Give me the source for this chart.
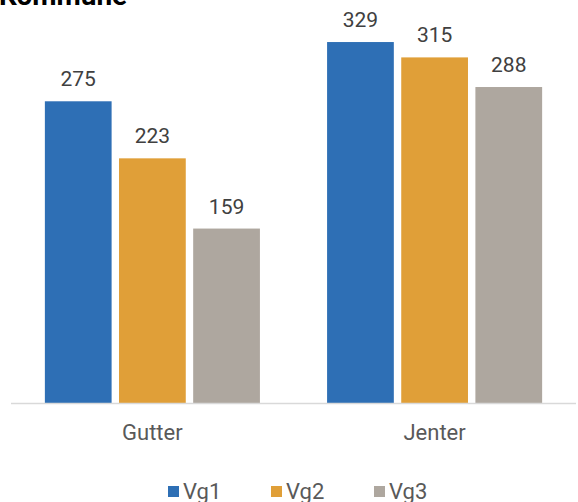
<!DOCTYPE html>
<html>
<head>
<meta charset="utf-8">
<script src="https://cdn.jsdelivr.net/npm/d3@7"></script>
<style>
  body { margin: 0; background: #fff; }
  text { font-family: Roboto, 'Liberation Sans', sans-serif; }
</style>
</head>
<body>
<div id="chart"></div>
<script>
var categories = ['Gutter', 'Jenter']
var series = ['Vg1', 'Vg2', 'Vg3']
var values = {
  Vg1: [275, 329],
  Vg2: [223, 315],
  Vg3: [159, 288]
}
var colors = ['#2e6fb5', '#e09f38', '#aea79f']

var width = 578
var height = 502

var svg = d3
  .select('#chart')
  .append('svg')
  .attr('width', width)
  .attr('height', height)

// title (cut off at the top in the original)
svg
  .append('text')
  .attr('x', -1)
  .attr('y', 5)
  .attr('font-size', 28)
  .attr('font-weight', 700)
  .attr('fill', '#000')
  .text('Kommune')

var x0 = d3
  .scaleBand()
  .domain(categories)
  .range([11, 576])
  .paddingInner(0.238)
  .paddingOuter(0.12)

var x1 = d3
  .scaleBand()
  .domain(series)
  .range([0, x0.bandwidth()])
  .paddingInner(0.1)

var y = d3
  .scaleLinear()
  .domain([0, 350])
  .range([403, 19])

var rows = []
categories.forEach((c, i) => {
  series.forEach((s, j) => {
    rows.push({ cat: c, s: s, v: values[s][i], color: colors[j] })
  })
})

svg
  .selectAll('.bar')
  .data(rows)
  .enter()
  .append('rect')
  .attr('class', 'bar')
  .attr('x', d => x0(d.cat) + x1(d.s))
  .attr('y', d => y(d.v))
  .attr('width', x1.bandwidth())
  .attr('height', d => y(0) - y(d.v))
  .attr('fill', d => d.color)

svg
  .selectAll('.val')
  .data(rows)
  .enter()
  .append('text')
  .attr('class', 'val')
  .attr('x', d => x0(d.cat) + x1(d.s) + x1.bandwidth() / 2)
  .attr('y', d => y(d.v) - 15)
  .attr('text-anchor', 'middle')
  .attr('font-size', 21)
  .attr('fill', '#404040')
  .text(d => d.v)

// baseline
svg
  .append('line')
  .attr('x1', 11)
  .attr('x2', 576)
  .attr('y1', y(0) + 0.5)
  .attr('y2', y(0) + 0.5)
  .attr('stroke', '#d9d9d9')
  .attr('stroke-width', 1.5)

svg
  .selectAll('.cat')
  .data(categories)
  .enter()
  .append('text')
  .attr('class', 'cat')
  .attr('x', d => x0(d) + x0.bandwidth() / 2)
  .attr('y', 440)
  .attr('text-anchor', 'middle')
  .attr('font-size', 22)
  .attr('fill', '#595959')
  .text(d => d)

// legend
var legend = svg
  .selectAll('.legend')
  .data(series)
  .enter()
  .append('g')
  .attr('class', 'legend')
  .attr('transform', (d, i) => 'translate(' + (168 + i * 103) + ',486)')

legend
  .append('rect')
  .attr('width', 11)
  .attr('height', 11)
  .attr('fill', (d, i) => colors[i])

legend
  .append('text')
  .attr('x', 15)
  .attr('y', 13)
  .attr('font-size', 22)
  .attr('fill', '#595959')
  .text(d => d)
</script>
</body>
</html>
